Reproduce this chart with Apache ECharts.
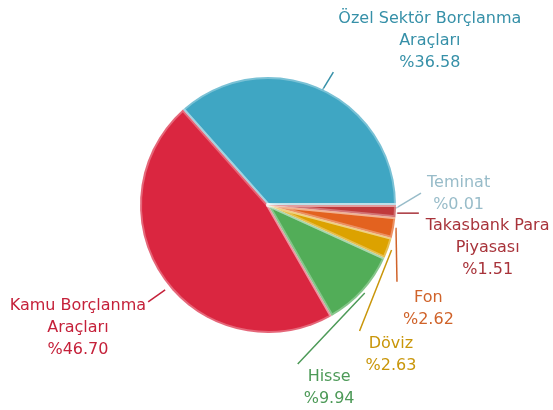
<!DOCTYPE html>
<html>
<head>
<meta charset="utf-8">
<script src="https://cdn.jsdelivr.net/npm/echarts@6/dist/echarts.min.js"></script>
<style>
  html, body { margin: 0; padding: 0; background: #fff; }
  #chart { width: 553px; height: 410px; }
</style>
</head>
<body>
<div id="chart"></div>
<script>
// dağılım verisi
const names = ["Özel Sektör Borçlanma Araçları", "Kamu Borçlanma Araçları", "Hisse", "Döviz", "Fon", "Takasbank Para Piyasası", "Teminat"];
const values = [36.58, 46.70, 9.94, 2.63, 2.62, 1.51, 0.01];

const sliceColors = ["#3fa6c3", "#da2640", "#52ad58", "#dca200", "#e3621f", "#c03a3c", "#a9c7d4"];
const textColors = ["#3690a8", "#c5213a", "#4d9a58", "#c9960a", "#d0632a", "#a8333a", "#98bcc9"];

// etiket çizgisi: [başlangıç kayması, uç vektörü]
const lineStart = [[2, 2], [1, 10], [2, 2], [3, 2], [2, 0], [1, 2], [0, 3]];
const lineVec = [[11, -18], [-17, 12], [-67, 71], [-32, 81], [1, 54], [22, 0], [25, -15]];
// etiket yerleşimi: [yan, dikey hizalama, dx, dy]
const spots = [
  ["l", "bottom", 5, 2],
  ["r", "top", -2, -7],
  ["l", "top", 6, 2],
  ["l", "top", 6, 2],
  ["l", "top", 6, 5],
  ["l", "top", 7, 2],
  ["l", "middle", 6, 1]
];

function wrapName(n) {
  const w = n.split(" ");
  if (w.length < 3) return n;
  return w.slice(0, -1).join(" ") + "\n" + w[w.length - 1];
}

const chart = echarts.init(document.getElementById("chart"));

chart.setOption({
  animation: false,
  series: [{
    type: "pie",
    center: [268, 205],
    radius: 128,
    startAngle: 0,
    clockwise: false,
    avoidLabelOverlap: false,
    emphasis: { disabled: true },
    itemStyle: { borderColor: "rgba(255,255,255,0.3)", borderWidth: 4 },
    label: {
      position: "outside",
      fontFamily: "DejaVu Sans",
      fontSize: 16,
      lineHeight: 22,
      formatter: p => wrapName(p.name) + "\n%" + p.value.toFixed(2)
    },
    labelLine: { show: true, length: 0, length2: 0, lineStyle: { width: 1.5 } },
    labelLayout: function (p) {
      const i = p.dataIndex;
      const p0 = p.labelLinePoints[0];
      const s = [p0[0] + lineStart[i][0], p0[1] + lineStart[i][1]];
      const e = [s[0] + lineVec[i][0], s[1] + lineVec[i][1]];
      const sp = spots[i];
      const w = p.labelRect.width;
      const x = sp[0] === "l" ? e[0] + sp[2] + w / 2 : e[0] + sp[2] - w / 2;
      return {
        x: x,
        y: e[1] + sp[3],
        align: "center",
        verticalAlign: sp[1],
        labelLinePoints: [s, e]
      };
    },
    data: names.map((n, i) => ({
      name: n,
      value: values[i],
      itemStyle: { color: sliceColors[i] },
      label: { color: textColors[i] },
      labelLine: { lineStyle: { color: textColors[i] } }
    }))
  }]
});
</script>
</body>
</html>
